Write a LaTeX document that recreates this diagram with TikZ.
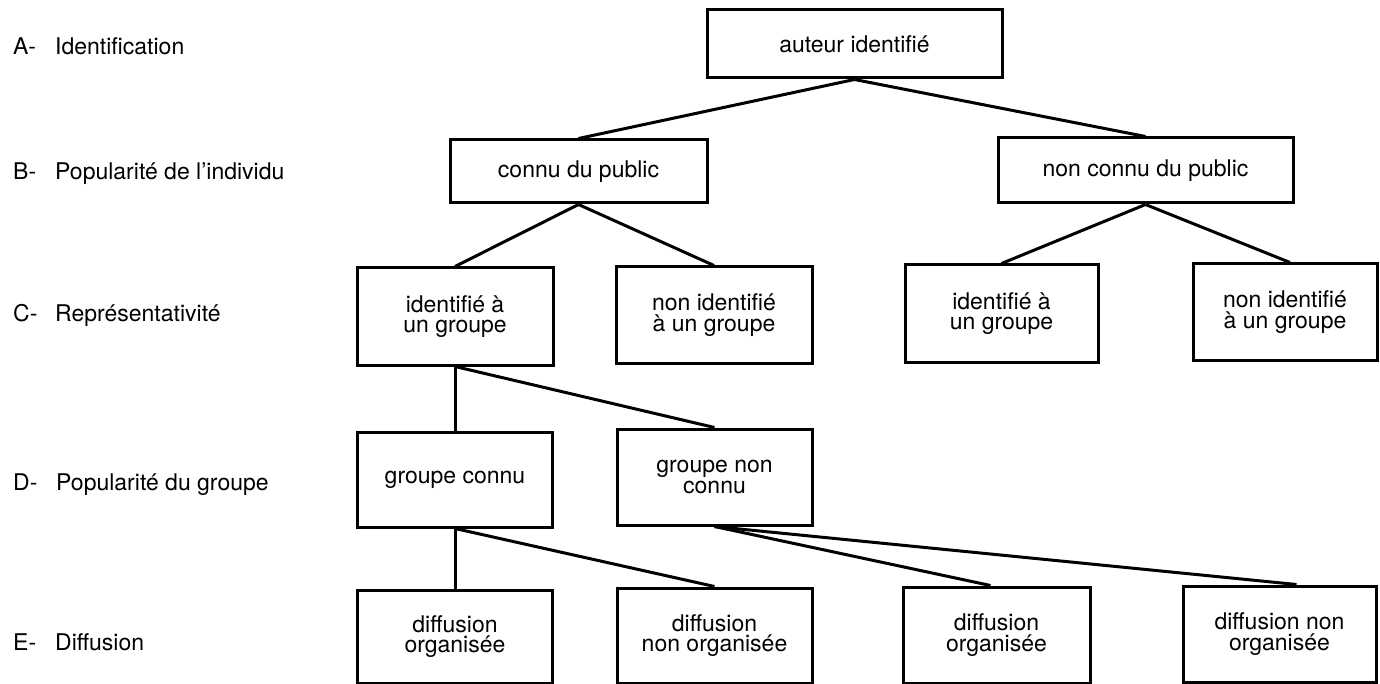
\documentclass[tikz,border=0pt]{standalone}
\usepackage{fontspec}
\setmainfont{TeX Gyre Heros}
\newcommand{\boxfont}{\fontsize{23}{20.5}\selectfont}
\newcommand{\lblfont}{\fontsize{23}{22}\selectfont}
\begin{document}
\begin{tikzpicture}[x=1pt,y=-1pt,
  box/.style={draw, line width=3pt, inner sep=0pt, align=center, font=\boxfont},
  conn/.style={line width=3pt},
  lbl/.style={anchor=base west, inner sep=0pt, font=\lblfont}]
\useasboundingbox (0,0) rectangle (1380,684);
% left labels
\node[lbl] (la) at (13,55) {A-};
\node[lbl] (lat) at (55,55) {Identification};
\node[lbl] (lb) at (13,180) {B-};
\node[lbl] (lbt) at (55,180) {Popularité de l'individu};
\node[lbl] (lc) at (13,322) {C-};
\node[lbl] (lct) at (55,322) {Représentativité};
\node[lbl] (ld) at (13,490) {D-};
\node[lbl] (ldt) at (56,490) {Popularité du groupe};
\node[lbl] (le) at (13,650) {E-};
\node[lbl] (let) at (55,650) {Diffusion};
% boxes
\node[box, minimum width=295pt, minimum height=68pt] (top) at (854.5,44) {auteur identifié};
\node[box, minimum width=257pt, minimum height=63pt] (b1) at (578.5,171.5) {connu du public};
\node[box, minimum width=295pt, minimum height=65pt] (b2) at (1145.5,170.5) {non connu du public};
\node[box, minimum width=196pt, minimum height=97pt] (c1) at (455,316.5) {identifié à\\un groupe};
\node[box, minimum width=196pt, minimum height=96pt] (c2) at (714,315) {non identifié\\à un groupe};
\node[box, minimum width=193pt, minimum height=97pt] (c3) at (1001.5,313.5) {identifié à\\un groupe};
\node[box, minimum width=184pt, minimum height=96pt] (c4) at (1285,312) {non identifié\\à un groupe};
\node[box, minimum width=195pt, minimum height=95pt] (d1) at (455,479.5) {groupe connu};
\node[box, minimum width=195pt, minimum height=96pt] (d2) at (714.5,477) {groupe non\\connu};
\node[box, minimum width=195pt, minimum height=93pt] (e1) at (455,636.5) {diffusion\\organisée};
\node[box, minimum width=195pt, minimum height=95pt] (e2) at (714.5,635.5) {diffusion\\non organisée};
\node[box, minimum width=187pt, minimum height=96pt] (e3) at (996.5,635) {diffusion\\organisée};
\node[box, minimum width=193pt, minimum height=96pt] (e4) at (1279.5,634) {diffusion non\\organisée};
% connectors
\draw[conn] (top.south) -- (b1.north);
\draw[conn] (top.south) -- (b2.north);
\draw[conn] (b1.south) -- (c1.north);
\draw[conn] (b1.south) -- (c2.north);
\draw[conn] (b2.south) -- (c3.north);
\draw[conn] (b2.south) -- ([xshift=5pt]c4.north);
\draw[conn] (c1.south) -- (d1.north);
\draw[conn] (c1.south) -- (d2.north);
\draw[conn] (d1.south) -- (e1.north);
\draw[conn] (d1.south) -- (e2.north);
\draw[conn] (d2.south) -- ([xshift=-6pt]e3.north);
\draw[conn] (d2.south) -- ([xshift=17pt]e4.north);
\end{tikzpicture}
\end{document}
